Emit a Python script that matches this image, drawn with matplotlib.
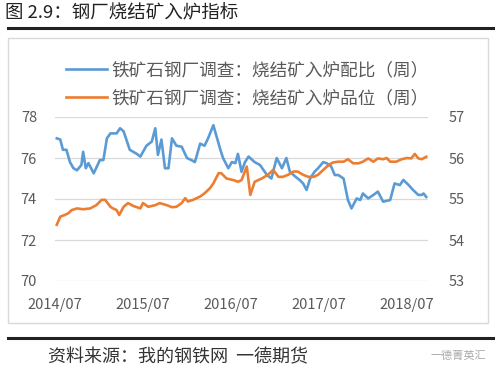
import matplotlib
matplotlib.use("Agg")
import matplotlib.pyplot as plt
from matplotlib.lines import Line2D

plt.rcParams["font.family"] = ["Noto Sans CJK SC", "DejaVu Sans"]

# decimal years (2014.5 = 2014/07)
T_RATIO = [2014.52, 2014.56, 2014.59, 2014.63, 2014.67, 2014.71, 2014.75, 2014.80,
           2014.82, 2014.85, 2014.88, 2014.94, 2015.01, 2015.05, 2015.09, 2015.13,
           2015.20, 2015.24, 2015.28, 2015.35, 2015.43, 2015.47, 2015.54, 2015.60,
           2015.64, 2015.67, 2015.71, 2015.75, 2015.79, 2015.83, 2015.88, 2015.94,
           2016.00, 2016.05, 2016.09, 2016.15, 2016.20, 2016.24, 2016.30, 2016.38,
           2016.41, 2016.47, 2016.51, 2016.55, 2016.58, 2016.62, 2016.66, 2016.70,
           2016.77, 2016.83, 2016.91, 2016.96, 2017.02, 2017.08, 2017.13, 2017.17,
           2017.23, 2017.28, 2017.32, 2017.36, 2017.40, 2017.45, 2017.49, 2017.55,
           2017.59, 2017.64, 2017.68, 2017.72, 2017.78, 2017.83, 2017.87, 2017.93,
           2017.97, 2018.00, 2018.06, 2018.12, 2018.17, 2018.23, 2018.31, 2018.36,
           2018.42, 2018.46, 2018.52, 2018.57, 2018.63, 2018.67, 2018.69, 2018.72]
RATIO = [76.96, 76.9, 76.4, 76.4, 75.8, 75.5, 75.4, 75.66, 76.3, 75.5, 75.75, 75.25,
         75.9, 75.9, 76.96, 77.2, 77.2, 77.45, 77.3, 76.4, 76.2, 76.07, 76.6, 76.8,
         77.45, 76.15, 76.9, 75.5, 75.5, 76.96, 76.6, 76.55, 76.0, 75.9, 75.8, 76.7,
         76.6, 76.96, 77.6, 76.4, 76.0, 75.5, 75.8, 75.75, 76.2, 75.33, 75.8, 76.07,
         75.8, 75.66, 75.17, 75.0, 76.0, 75.5, 76.0, 75.33, 75.1, 74.93, 74.76, 74.44,
         75.0, 75.33, 75.5, 75.8, 75.74, 75.58, 75.17, 75.17, 75.0, 73.95, 73.54, 74.03,
         73.95, 74.27, 74.03, 74.2, 74.36, 73.87, 73.95, 74.76, 74.68, 74.93, 74.68,
         74.44, 74.2, 74.2, 74.27, 74.1]

T_GRADE = [2014.52, 2014.56, 2014.61, 2014.65, 2014.69, 2014.75, 2014.82, 2014.90,
           2014.97, 2015.03, 2015.07, 2015.13, 2015.16, 2015.20, 2015.23, 2015.28,
           2015.33, 2015.39, 2015.47, 2015.50, 2015.56, 2015.64, 2015.69, 2015.77,
           2015.83, 2015.88, 2015.94, 2015.98, 2016.01, 2016.07, 2016.15, 2016.20,
           2016.26, 2016.30, 2016.36, 2016.39, 2016.45, 2016.53, 2016.58, 2016.62,
           2016.68, 2016.72, 2016.77, 2016.85, 2016.92, 2016.98, 2017.04, 2017.09,
           2017.15, 2017.21, 2017.26, 2017.32, 2017.38, 2017.44, 2017.49, 2017.55,
           2017.61, 2017.66, 2017.72, 2017.78, 2017.83, 2017.89, 2017.95, 2018.00,
           2018.06, 2018.12, 2018.17, 2018.23, 2018.27, 2018.31, 2018.38, 2018.44,
           2018.50, 2018.55, 2018.59, 2018.63, 2018.67, 2018.72]
GRADE = [54.37, 54.57, 54.61, 54.65, 54.73, 54.77, 54.75, 54.77, 54.85, 54.98, 54.98,
         54.81, 54.77, 54.73, 54.61, 54.81, 54.9, 54.83, 54.77, 54.9, 54.81, 54.85,
         54.9, 54.85, 54.8, 54.81, 54.9, 55.02, 54.94, 54.98, 55.06, 55.14, 55.26,
         55.38, 55.63, 55.63, 55.5, 55.46, 55.42, 55.46, 55.79, 55.1, 55.42, 55.5,
         55.59, 55.71, 55.54, 55.54, 55.59, 55.67, 55.67, 55.59, 55.54, 55.54, 55.59,
         55.71, 55.83, 55.89, 55.91, 55.91, 55.97, 55.87, 55.87, 55.91, 55.99, 55.91,
         55.99, 55.97, 56.0, 55.91, 55.91, 55.97, 56.0, 55.99, 56.1, 55.99, 55.97, 56.03]

XTICKS = [2014.5, 2015.5, 2016.5, 2017.5, 2018.5]
XLABELS = ["2014/07", "2015/07", "2016/07", "2017/07", "2018/07"]
LABELS = ["铁矿石钢厂调查：烧结矿入炉配比（周）", "铁矿石钢厂调查：烧结矿入炉品位（周）"]
BLUE, ORANGE, GREY = "#5B9BD5", "#ED7D31", "#595959"

W, H = 500, 383
fig = plt.figure(figsize=(5.0, 3.83), dpi=100)

def fx(x): return x / W
def fy(y): return 1 - y / H

ax = fig.add_axes([fx(55), fy(281), fx(428) - fx(55), fy(117) - fy(281)])
ax2 = ax.twinx()

ax.plot(T_RATIO, RATIO, color=BLUE, lw=1.9, zorder=3)
ax2.plot(T_GRADE, GRADE, color=ORANGE, lw=1.9, zorder=3)

ax.set_xlim(2014.5, 2018.74)
ax.set_ylim(70, 78)
ax2.set_ylim(53, 57)
ax.set_yticks([70, 72, 74, 76, 78])
ax2.set_yticks([53, 54, 55, 56, 57])
ax.set_xticks(XTICKS)
ax.set_xticklabels(XLABELS)
ax.yaxis.grid(True, color="#d9d9d9", lw=0.9)
ax.set_axisbelow(True)
for a in (ax, ax2):
    for s in a.spines.values():
        s.set_visible(False)
    a.tick_params(length=0, labelsize=10.5, colors=GREY)
ax.tick_params(axis="y", pad=13)
ax2.tick_params(axis="y", pad=15)
ax.tick_params(axis="x", pad=12)

handles = [Line2D([], [], color=BLUE, lw=1.9), Line2D([], [], color=ORANGE, lw=1.9)]
fig.legend(handles, LABELS, loc="upper left", bbox_to_anchor=(fx(66), fy(61)),
           frameon=False, handlelength=2.3, handletextpad=0.3,
           labelspacing=0.6, borderpad=0, borderaxespad=0, labelcolor=GREY,
           prop={"family": ["Noto Sans CJK SC"], "size": 12.7})

# chart frame
fig.add_artist(plt.Rectangle((fx(8), fy(323)), fx(488) - fx(8), fy(38) - fy(323),
                             fill=False, ec="#d9d9d9", lw=1.0, transform=fig.transFigure))
# title and rules
fig.text(fx(5), fy(13), "图 2.9：钢厂烧结矿入炉指标", fontsize=13.3, color="#222222",
         va="center", ha="left", fontweight="medium")
fig.add_artist(Line2D([fx(8), fx(493)], [fy(28), fy(28)], color="#222222", lw=2.2,
                      transform=fig.transFigure))
fig.add_artist(Line2D([fx(8), fx(493)], [fy(338), fy(338)], color="#222222", lw=2.2,
                      transform=fig.transFigure))
fig.text(fx(48), fy(357), "资料来源：我的钢铁网  一德期货", fontsize=13, color="#333333",
         va="center", ha="left")
fig.text(fx(486), fy(356), "一德菁英汇", fontsize=8, color="#aaaaaa",
         va="center", ha="right")

fig.savefig("out.png", dpi=100)
